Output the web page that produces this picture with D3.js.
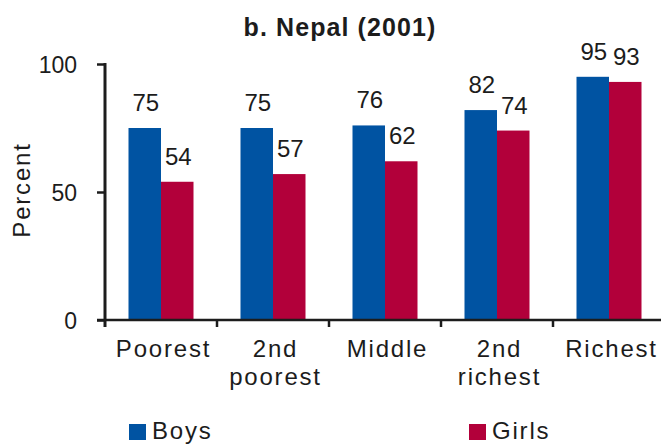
<!DOCTYPE html>
<html>
<head>
<meta charset="utf-8">
<script src="https://cdn.jsdelivr.net/npm/d3@7"></script>
<style>
  html, body { margin: 0; padding: 0; background: #fff; }
  svg { display: block; font-family: "Liberation Sans", Arial, sans-serif; }
</style>
</head>
<body>
<svg id="chart" width="661" height="444"></svg>
<script>
// Primary school attendance by wealth quintile, Nepal 2001
const categories = [["Poorest"], ["2nd", "poorest"], ["Middle"], ["2nd", "richest"], ["Richest"]];
const categoryKeys = ["Poorest", "2nd poorest", "Middle", "2nd richest", "Richest"];
const series = ["Boys", "Girls"];
const boys = [75, 75, 76, 82, 95];
const girls = [54, 57, 62, 74, 93];
const yTicks = [0, 50, 100];
const title = "b. Nepal (2001)";
const yTitle = "Percent";

const colors = { Boys: "#0053a2", Girls: "#b2003a" };
const ink = "#1c1c1c";

const svg = d3.select("#chart");

const x = d3.scaleBand().domain(categoryKeys).range([105, 665]).paddingInner(0).paddingOuter(0);
const y = d3.scaleLinear().domain([0, 100]).range([320, 64]);
const groupWidth = 65;
const xs = d3.scaleBand().domain(series).range([0, groupWidth]);
const groupOffset = (x.bandwidth() - groupWidth) / 2;

const rows = categoryKeys.map((k, i) => ({ key: k, lines: categories[i], Boys: boys[i], Girls: girls[i] }));

// Title
svg.append("text")
  .attr("x", 340).attr("y", 36)
  .attr("text-anchor", "middle")
  .attr("font-size", 25).attr("font-weight", "bold")
  .attr("letter-spacing", 1.1)
  .attr("fill", ink)
  .text(title);

// Bars
const groups = svg.append("g").selectAll("g").data(rows).join("g")
  .attr("transform", d => `translate(${x(d.key) + groupOffset},0)`);

groups.selectAll("rect").data(d => series.map(s => ({ s, v: d[s] }))).join("rect")
  .attr("x", d => xs(d.s))
  .attr("width", xs.bandwidth())
  .attr("y", d => y(d.v))
  .attr("height", d => y(0) - y(d.v))
  .attr("fill", d => colors[d.s]);

// Value labels
groups.selectAll("text.val").data(d => series.map(s => ({ s, v: d[s] }))).join("text")
  .attr("class", "val")
  .attr("x", d => xs(d.s) + xs.bandwidth() / 2 + 1)
  .attr("y", d => y(d.v) - 17)
  .attr("text-anchor", "middle")
  .attr("font-size", 24)
  .attr("fill", ink)
  .text(d => d.v);

// Y axis
const yAxis = svg.append("g")
  .attr("transform", "translate(105,0)")
  .call(d3.axisLeft(y).tickValues(yTicks).tickSize(8).tickPadding(20).tickFormat(d3.format("d")));
yAxis.select(".domain").remove();
yAxis.selectAll(".tick line").attr("stroke", ink).attr("stroke-width", 2.5);
yAxis.selectAll(".tick text")
  .attr("font-size", 23)
  .attr("font-family", "Liberation Sans, Arial, sans-serif")
  .attr("fill", ink)
  .attr("dy", "0.36em");

svg.append("line")
  .attr("x1", 105).attr("x2", 105)
  .attr("y1", y(100) - 1).attr("y2", y(0) + 7)
  .attr("stroke", ink).attr("stroke-width", 3);

// X axis baseline and boundary ticks
svg.append("line")
  .attr("x1", 97).attr("x2", 661)
  .attr("y1", y(0)).attr("y2", y(0))
  .attr("stroke", ink).attr("stroke-width", 2.5);

svg.append("g").selectAll("line").data(categoryKeys.slice(1)).join("line")
  .attr("x1", d => x(d)).attr("x2", d => x(d))
  .attr("y1", y(0)).attr("y2", y(0) + 7)
  .attr("stroke", ink).attr("stroke-width", 2.5);

// Category labels
const catLabels = svg.append("g").selectAll("text").data(rows).join("text")
  .attr("text-anchor", "middle")
  .attr("font-size", 24)
  .attr("letter-spacing", 1.8)
  .attr("fill", ink);
catLabels.selectAll("tspan").data(d => d.lines.map(l => ({ l, c: x(d.key) + x.bandwidth() / 2 + 2.5 }))).join("tspan")
  .attr("x", d => d.c)
  .attr("y", (d, i) => 357 + i * 28)
  .text(d => d.l);

// Y axis title
svg.append("text")
  .attr("transform", "translate(30,190) rotate(-90)")
  .attr("text-anchor", "middle")
  .attr("font-size", 24)
  .attr("letter-spacing", 1.8)
  .attr("fill", ink)
  .text(yTitle);

// Legend
const legendX = { Boys: 129, Girls: 469 };
const legend = svg.append("g").selectAll("g").data(series).join("g")
  .attr("transform", d => `translate(${legendX[d]},424)`);
legend.append("rect").attr("width", 17).attr("height", 16).attr("fill", d => colors[d]);
legend.append("text")
  .attr("x", 23).attr("y", 15)
  .attr("font-size", 24)
  .attr("letter-spacing", 1.8)
  .attr("fill", ink)
  .text(d => d);
</script>
</body>
</html>
